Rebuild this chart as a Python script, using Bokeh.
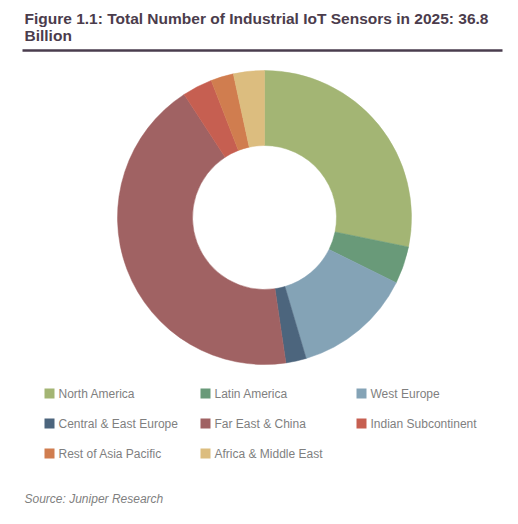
import math
from bokeh.plotting import figure
from bokeh.models import Range1d, ColumnDataSource
from bokeh.core.properties import value
from bokeh.embed import file_html
from bokeh.resources import INLINE

title_lines = ["Figure 1.1: Total Number of Industrial IoT Sensors in 2025: 36.8", "Billion"]
source_text = "Source: Juniper Research"
regions = ["North America", "Latin America", "West Europe", "Central & East Europe",
           "Far East & China", "Indian Subcontinent", "Rest of Asia Pacific", "Africa & Middle East"]
shares = [28.2, 4.1, 13.1, 2.25, 43.1, 3.3, 2.5, 3.4]
colors = ["#a3b574", "#699a79", "#84a3b6", "#4c657d", "#a06263", "#c65f51", "#d07d4f", "#dcbd7f"]

W, H = 510, 516
p = figure(width=W, height=H, output_backend="svg", toolbar_location=None,
           x_range=Range1d(0, W), y_range=Range1d(0, H), min_border=0)
p.axis.visible = False
p.grid.visible = False
p.outline_line_color = None
p.background_fill_color = "white"

def Y(y_page):
    return H - y_page

def X(x_page):
    return x_page

# donut
total = sum(shares)
starts, ends = [], []
cum = 0.0
for s in shares:
    starts.append(math.pi / 2 - 2 * math.pi * cum / total)
    cum += s
    ends.append(math.pi / 2 - 2 * math.pi * cum / total)
src = ColumnDataSource(dict(start=starts, end=ends, color=colors))
p.annular_wedge(x=X(264), y=Y(217), inner_radius=72, outer_radius=147,
                start_angle="start", end_angle="end", direction="clock",
                fill_color="color", line_color="color", line_width=0.5, source=src)

# title
for i, t in enumerate(title_lines):
    p.text(x=[X(24)], y=[Y(18 + 17 * i)], text=[t], text_font=value("Liberation Sans"),
           text_font_style="bold", text_font_size="15.5px", text_color="#4b3c4c",
           text_align="left", text_baseline="middle")
p.line(x=[X(22), X(502)], y=[Y(50), Y(50)], line_color="#4a3d4e", line_width=2.5)

# legend
lx, ly, lc, tx = [], [], [], []
for i, (r, c) in enumerate(zip(regions, colors)):
    col, row = i % 3, i // 3
    lx.append(X(49 + 156 * col))
    ly.append(Y(393 + 30 * row))
    lc.append(c)
    tx.append(X(58 + 156 * col))
p.rect(x=lx, y=ly, width=10, height=10, fill_color=lc, line_color=None)
p.text(x=tx, y=ly, text=regions, text_font=value("Liberation Sans"), text_font_size="12px",
       text_color="#7f7f7f", text_align="left", text_baseline="middle")

p.text(x=[X(24)], y=[Y(498)], text=[source_text], text_font=value("Liberation Sans"),
       text_font_style="italic", text_font_size="12px", text_color="#7f7f7f",
       text_align="left", text_baseline="middle")

open("out.html", "w").write(file_html(p, INLINE))
